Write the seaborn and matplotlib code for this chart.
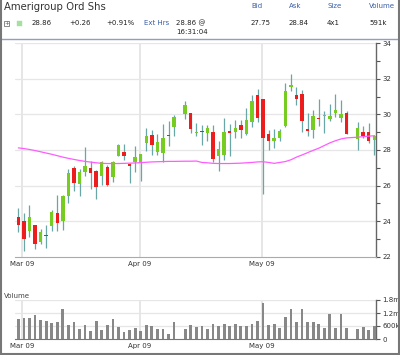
import numpy as np
import pandas as pd
import matplotlib
matplotlib.use("Agg")
import matplotlib.pyplot as plt
import seaborn as sns
from matplotlib.patches import Rectangle
from matplotlib.lines import Line2D

# ---------------- data ----------------
start_date = "2009-03-02"
end_date = "2009-05-29"
holidays = ["2009-04-10", "2009-05-25"]

opens = [24.23, 23.99, 23.43, 23.81, 22.80, 23.22, 23.73, 24.46, 24.01, 25.44,
         26.99, 26.06, 26.79, 26.97, 26.84, 26.56, 27.07, 26.47, 27.68, 27.87,
         27.24, 27.34, 27.29, 28.42, 28.85, 27.87, 27.83, 28.87, 29.32,
         30.00, 30.06, 28.96, 29.05, 28.94, 29.04, 27.65, 27.74, 29.07, 29.04,
         29.41, 28.89, 29.59, 31.07, 30.85, 28.89, 28.48, 28.67, 29.37, 31.57,
         31.11, 31.17, 29.19, 29.13, 29.80, 29.90, 29.74, 30.06, 29.81, 30.09,
         28.63, 29.04, 29.00, 28.57]
highs = [24.74, 24.48, 24.89, 23.81, 23.58, 23.77, 24.60, 25.48, 25.48, 26.93,
         27.12, 26.93, 28.15, 27.36, 26.90, 27.36, 27.16, 27.36, 28.33, 28.33,
         27.27, 28.20, 27.79, 29.26, 29.13, 28.89, 29.45, 29.64, 29.95,
         30.75, 30.06, 29.54, 29.40, 29.41, 29.41, 28.48, 29.81, 29.44, 29.69,
         29.69, 30.37, 31.07, 31.41, 30.85, 29.13, 29.19, 29.19, 31.78, 32.28,
         31.54, 31.35, 30.06, 30.24, 30.89, 30.19, 30.61, 31.17, 30.80, 30.19,
         29.56, 29.37, 29.50, 28.85]
lows = [23.40, 22.32, 23.12, 22.43, 22.69, 22.47, 23.43, 23.43, 23.49, 25.03,
        25.72, 25.40, 26.56, 25.80, 25.26, 26.04, 25.97, 26.19, 27.64, 27.45,
        26.15, 26.75, 26.23, 27.96, 27.72, 27.72, 27.34, 28.20, 28.80,
        29.76, 28.95, 28.80, 28.26, 28.48, 27.33, 26.81, 27.46, 27.65, 28.67,
        28.67, 28.85, 29.31, 29.56, 25.52, 28.02, 28.11, 28.48, 29.31, 31.30,
        30.52, 29.00, 28.81, 28.70, 29.37, 28.94, 29.65, 29.87, 29.59, 28.89,
        28.02, 28.67, 28.39, 27.74]
closes = [23.77, 23.02, 24.23, 22.69, 23.40, 23.18, 24.51, 23.90, 25.39, 26.71,
          26.15, 26.79, 27.12, 26.69, 25.91, 27.31, 26.04, 27.34, 28.28, 27.64,
          27.12, 27.59, 27.79, 28.80, 28.27, 28.46, 28.67, 28.80, 29.88,
          30.53, 29.20, 29.00, 29.00, 29.22, 27.52, 28.07, 29.00, 28.94, 29.22,
          29.13, 29.69, 30.74, 29.78, 28.67, 28.52, 28.70, 29.07, 31.30, 31.60,
          30.89, 29.63, 29.07, 29.93, 29.76, 29.93, 29.93, 30.24, 30.00, 28.89,
          29.22, 28.81, 28.52, 28.76]
moving_avg = [28.12, 28.08, 28.03, 27.97, 27.90, 27.83, 27.76, 27.68, 27.60, 27.53,
              27.47, 27.41, 27.36, 27.32, 27.28, 27.25, 27.24, 27.24, 27.24, 27.25,
              27.26, 27.27, 27.29, 27.31, 27.33, 27.34, 27.35, 27.36, 27.36,
              27.37, 27.37, 27.38, 27.30, 27.28, 27.25, 27.24, 27.24, 27.24, 27.25,
              27.26, 27.28, 27.30, 27.33, 27.34, 27.30, 27.25, 27.30, 27.35, 27.45,
              27.60, 27.72, 27.85, 27.98, 28.10, 28.25, 28.40, 28.52, 28.62, 28.68,
              28.72, 28.75, 28.78, 28.80]
volumes = [908, 955, 955, 1124, 878, 816, 755, 770, 1370, 647,
           785, 447, 647, 370, 847, 416, 647, 924, 570, 308,
           416, 493, 385, 647, 600, 477, 447, 231, 785,
           447, 631, 539, 600, 462, 678, 600, 678, 616, 693,
           616, 616, 693, 832, 1648, 647, 678, 524, 1000, 1370,
           800, 1370, 770, 785, 678, 524, 1155, 524, 1170, 524,
           462, 554, 416, 600]  # thousands of shares

month_labels = ["Mar 09", "Apr 09", "May 09"]
month_pos = [0.7, 21.8, 43.8]
price_ticks = [22, 24, 26, 28, 30, 32, 34]
vol_ticks = [0, 600000, 1200000, 1800000]
vol_tick_labels = ["0", "600k", "1.2m", "1.8m"]

# ---------------- frame ----------------
all_days = pd.bdate_range(start_date, end_date)
slot_of_day = {d: i for i, d in enumerate(all_days)}
trade_days = [d for d in all_days if d.strftime("%Y-%m-%d") not in holidays]
slots = [slot_of_day[d] for d in trade_days]

df = pd.DataFrame({"slot": slots, "open": opens, "high": highs, "low": lows,
                   "close": closes, "ma": moving_avg,
                   "volume": np.array(volumes) * 1000.0})

sns.set_style("white")
plt.rcParams["font.family"] = ["DejaVu Sans"]

W, H = 400, 355
fig = plt.figure(figsize=(W / 100, H / 100), dpi=100)
fig.patch.set_facecolor("white")

def fy(y):
    return 1 - y / H

ax = fig.add_axes([15 / W, fy(256.7), 361 / W, 213.4 / H])
vax = fig.add_axes([15 / W, fy(339), 361 / W, 39 / H])

GREEN = "#77cc22"
RED = "#ee1d1d"
WICK = "#6aa6a6"

# wicks
ax.vlines(df["slot"], df["low"], df["high"], color=WICK, lw=0.9, zorder=2)
# bodies
up = df["close"] >= df["open"]
body_h = (df["close"] - df["open"]).abs().clip(lower=0.06)
body_b = df[["open", "close"]].min(axis=1)
ax.bar(df["slot"], body_h, bottom=body_b, width=0.62,
       color=np.where(up, GREEN, RED), linewidth=0, zorder=3)
# moving average
sns.lineplot(data=df, x="slot", y="ma", ax=ax, color="#ff5cff", lw=0.9,
             zorder=4, legend=False)

# volume
sns.barplot(data=df, x="slot", y="volume", native_scale=True, ax=vax,
            color="#888888", width=0.5, errorbar=None, saturation=1,
            linewidth=0, zorder=3)

for a in (ax, vax):
    a.set_xlim(-0.6, 64.3)
    a.set_xlabel("")
    a.set_ylabel("")
    a.set_facecolor("white")
    a.set_xticks(month_pos)
    a.set_xticklabels(month_labels)
    a.tick_params(axis="x", length=0, labelsize=5, colors="#333333", pad=3)
    a.yaxis.tick_right()
    a.tick_params(axis="y", which="both", direction="out", length=3,
                  width=0.8, color="#555555", labelsize=5,
                  labelcolor="#333333", pad=1.5)
    for s in ("left", "top"):
        a.spines[s].set_visible(False)
    a.spines["right"].set_color("#666666")
    a.spines["right"].set_linewidth(1)
    a.spines["bottom"].set_color("#aaaaaa")
    a.spines["bottom"].set_linewidth(0.8)
    for p in month_pos:
        a.axvline(p, color="#e2e2e2", lw=1.2, zorder=0)

ax.set_ylim(22, 34)
ax.set_yticks(price_ticks)
ax.set_yticks(np.arange(23, 34, 2), minor=True)
ax.set_yticklabels([str(t) for t in price_ticks])
for t in price_ticks[1:]:
    ax.axhline(t, color="#e6e6e6", lw=0.9, zorder=0)

vax.set_ylim(0, 1800000)
vax.set_yticks(vol_ticks)
vax.set_yticklabels(vol_tick_labels)
for t in vol_ticks[1:]:
    vax.axhline(t, color="#e6e6e6", lw=0.9, zorder=0)
vax.spines["bottom"].set_color("#777777")

# ---------------- header ----------------
fig.text(4 / W, fy(7.5), "Amerigroup Ord Shs", fontsize=7.3, color="#333333",
         va="center", ha="left")
blue = "#3b5ea8"
row1, row2, row3 = fy(6.5), fy(23), fy(32)
for x, s in [(251, "Bid"), (289, "Ask"), (327, "Size"), (369, "Volume")]:
    fig.text(x / W, row1, s, fontsize=5, color=blue, va="center", ha="left")
for x, s in [(31.5, "28.86"), (69, "+0.26"), (106.5, "+0.91%"),
             (176, "28.86 @"), (251, "27.75"), (289, "28.84"),
             (327, "4x1"), (369, "591k")]:
    fig.text(x / W, row2, s, fontsize=5, color="#222222", va="center", ha="left")
fig.text(144 / W, row2, "Ext Hrs", fontsize=5, color=blue, va="center", ha="left")
fig.text(176 / W, row3, "16:31:04", fontsize=5, color="#222222", va="center", ha="left")

fig.add_artist(Rectangle((4 / W, fy(26)), 5 / W, 5 / H,
                         transform=fig.transFigure, fill=False,
                         edgecolor="#777777", lw=0.6))
fig.text(6.5 / W, fy(23.4), "+", fontsize=4, color="#555555",
         va="center", ha="center")
fig.add_artist(Rectangle((16.5 / W, fy(26)), 5 / W, 5.5 / H,
                         transform=fig.transFigure, facecolor="#a6e0a0",
                         edgecolor="#a6e0a0", lw=0.3))
fig.add_artist(Line2D([0, 1], [fy(38.5), fy(38.5)], transform=fig.transFigure,
                      color="#8ea0c0", lw=1))

fig.text(4 / W, fy(296), "Volume", fontsize=5, color="#444444",
         va="center", ha="left")

# outer border
for xs, ys in [([0.002, 0.002], [0, 1]), ([0.998, 0.998], [0, 1]),
               ([0, 1], [0.003, 0.003])]:
    fig.add_artist(Line2D(xs, ys, transform=fig.transFigure,
                          color="#777777", lw=1.5))

fig.savefig("out.png", dpi=100, facecolor="white")
